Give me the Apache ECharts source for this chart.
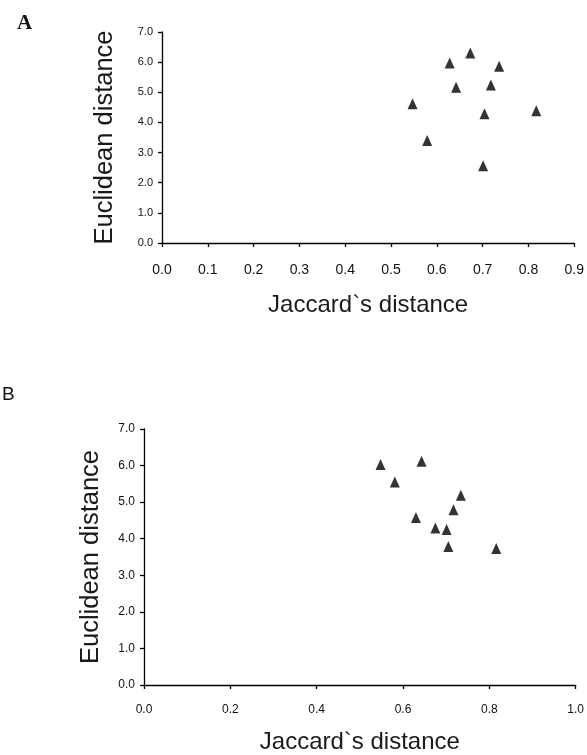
<!DOCTYPE html>
<html>
<head>
<meta charset="utf-8">
<script src="https://cdn.jsdelivr.net/npm/echarts@6/dist/echarts.min.js"></script>
<style>html,body{margin:0;padding:0;background:#fff}#c{width:587px;height:755px}</style>
</head>
<body>
<div id="c"></div>
<script>
// Panel A data
var jaccardA = [0.547, 0.579, 0.628, 0.642, 0.673, 0.736, 0.718, 0.704, 0.701, 0.817];
var euclidA  = [4.62, 3.40, 5.97, 5.17, 6.30, 5.86, 5.24, 4.29, 2.56, 4.39];
// Panel B data
var jaccardB = [0.548, 0.581, 0.643, 0.630, 0.675, 0.701, 0.705, 0.717, 0.734, 0.816];
var euclidB  = [6.03, 5.55, 6.12, 4.58, 4.29, 4.25, 3.79, 4.79, 5.19, 3.73];
var panelLabels = ['A', 'B'];
var xName = 'Jaccard`s distance';
var yName = 'Euclidean distance';

function pairs(xs, ys){ return xs.map(function(x,i){ return [x, ys[i]]; }); }

var chart = echarts.init(document.getElementById('c'));
var axisLineStyle = {lineStyle:{color:'#000', width:1.3}};
var tickStyle = {show:true, length:4, lineStyle:{color:'#000', width:1.3}};
var xNameStyle = {fontFamily:'Liberation Sans', fontSize:24, color:'#1a1a1a'};
var yNameStyle = {fontFamily:'Liberation Sans', fontSize:25.5, color:'#1a1a1a'};

chart.setOption({
  animation:false,
  backgroundColor:'#fff',
  title:[
    {text:panelLabels[0], left:12, top:8, textStyle:{fontFamily:'Liberation Serif', fontWeight:'bold', fontSize:21, color:'#111'}},
    {text:panelLabels[1], left:-3, top:380, textStyle:{fontFamily:'Liberation Sans', fontWeight:'normal', fontSize:19, color:'#111'}}
  ],
  grid:[
    {left:162, top:32, width:415, height:211},
    {left:144, top:429, width:432, height:256}
  ],
  xAxis:[
    {gridIndex:0, type:'value', min:0, max:0.9, interval:0.1, splitLine:{show:false},
     axisLine:axisLineStyle, axisTick:tickStyle,
     axisLabel:{margin:20, fontFamily:'Liberation Sans', fontSize:14, color:'#111', formatter:function(v){return v.toFixed(1);}},
     name:xName, nameLocation:'middle', nameGap:50, nameMoveOverlap:false, nameTextStyle:xNameStyle},
    {gridIndex:1, type:'value', min:0, max:1.0, interval:0.2, splitLine:{show:false},
     axisLine:axisLineStyle, axisTick:tickStyle,
     axisLabel:{margin:19, fontFamily:'Liberation Sans', fontSize:12, color:'#111', formatter:function(v){return v.toFixed(1);}},
     name:xName, nameLocation:'middle', nameGap:45, nameMoveOverlap:false, nameTextStyle:xNameStyle}
  ],
  yAxis:[
    {gridIndex:0, type:'value', min:0, max:7, interval:1, splitLine:{show:false},
     axisLine:axisLineStyle, axisTick:tickStyle,
     axisLabel:{margin:9, fontFamily:'Liberation Sans', fontSize:11, color:'#111', formatter:function(v){return v.toFixed(1);}},
     name:yName, nameLocation:'middle', nameGap:44, nameMoveOverlap:false, nameTextStyle:yNameStyle},
    {gridIndex:1, type:'value', min:0, max:7, interval:1, splitLine:{show:false},
     axisLine:axisLineStyle, axisTick:tickStyle,
     axisLabel:{margin:9, fontFamily:'Liberation Sans', fontSize:12, color:'#111', formatter:function(v){return v.toFixed(1);}},
     name:yName, nameLocation:'middle', nameGap:40, nameMoveOverlap:false, nameTextStyle:yNameStyle}
  ],
  series:[
    {type:'scatter', xAxisIndex:0, yAxisIndex:0, symbol:'triangle', symbolSize:[10,11], itemStyle:{color:'#000'}, data:pairs(jaccardA, euclidA)},
    {type:'scatter', xAxisIndex:1, yAxisIndex:1, symbol:'triangle', symbolSize:[10,11], itemStyle:{color:'#000'}, data:pairs(jaccardB, euclidB)}
  ]
});
</script>
</body>
</html>
